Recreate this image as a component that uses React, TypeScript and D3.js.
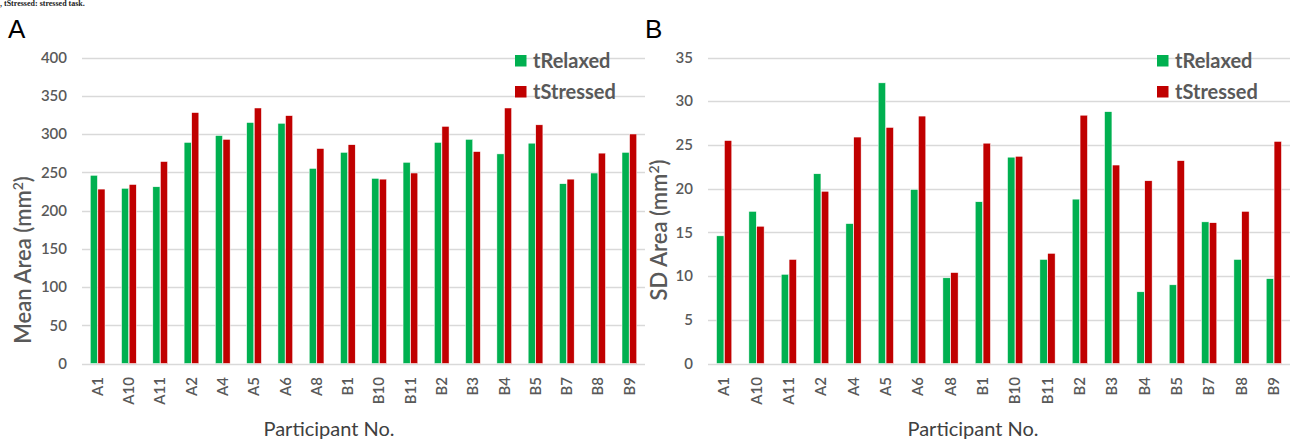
import React from "react";
import * as d3 from "d3";

const categories = ["A1","A10","A11","A2","A4","A5","A6","A8","B1","B10","B11","B2","B3","B4","B5","B7","B8","B9"];
const seriesNames = ["tRelaxed", "tStressed"];
const meanRelaxed = [246,229,231,289,298,315,314,255,276,242,263,289,293,274,288,235,249,276];
const meanStressed = [228,234,264,328,293,334,324,281,286,241,249,310,277,334,312,241,275,300];
const sdRelaxed = [14.6,17.4,10.2,21.7,16.0,32.1,19.9,9.8,18.5,23.6,11.9,18.8,28.8,8.2,9.0,16.2,11.9,9.7];
const sdStressed = [25.5,15.7,11.9,19.7,25.9,27.0,28.3,10.4,25.2,23.7,12.6,28.4,22.7,20.9,23.2,16.1,17.4,25.4];
const meanTicks = [0,50,100,150,200,250,300,350,400];
const sdTicks = [0,5,10,15,20,25,30,35];

const COLORS = ["#00b050", "#c00000"];
const FONT = "Lato, 'Open Sans', sans-serif";

type PanelProps = {
  letter: string;
  letterX: number;
  left: number;
  right: number;
  yMax: number;
  ticks: number[];
  relaxed: number[];
  stressed: number[];
  yTitle: string;
  yTitleX: number;
  yTitleY: number;
  legendX: number;
  xTitleX: number;
};

function Panel(p: PanelProps) {
  const top = 57.5;
  const bottom = 363.5;
  const x = d3.scaleBand<string>().domain(categories).range([p.left, p.right]).paddingInner(0.5).paddingOuter(0.25);
  const sub = d3.scaleBand<string>().domain(seriesNames).range([0, x.bandwidth()]).padding(0.06);
  const y = d3.scaleLinear().domain([0, p.yMax]).range([bottom, top]);
  const series = [p.relaxed, p.stressed];
  return (
    <g>
      <text x={p.letterX} y={38} fontFamily="'Liberation Sans', Arial, sans-serif" fontSize={26} fill="#000">{p.letter}</text>
      {p.ticks.map((t) => (
        <g key={t}>
          <line x1={p.left} x2={p.right} y1={Math.round(y(t)) + 0.5} y2={Math.round(y(t)) + 0.5} stroke="#d9d9d9" strokeWidth={1.3} />
          <text x={p.left - 15} y={y(t)} dy="0.35em" textAnchor="end" fontFamily={FONT} fontSize={15} fontWeight={600} fill="#595959">{t}</text>
        </g>
      ))}
      {categories.map((c, i) => (
        <g key={c}>
          {series.map((s, k) => (
            <rect
              key={k}
              x={(x(c) as number) + (sub(seriesNames[k]) as number)}
              y={y(s[i])}
              width={sub.bandwidth()}
              height={y(0) - y(s[i])}
              fill={COLORS[k]}
              stroke="#ffffff"
              strokeWidth={0.5}
            />
          ))}
          <text
            transform={`translate(${(x(c) as number) + x.bandwidth() / 2},${377}) rotate(-90)`}
            dy="0.35em"
            textAnchor="end"
            fontFamily={FONT}
            fontSize={15}
            fontWeight={600}
            fill="#595959"
          >{c}</text>
        </g>
      ))}
      <text
        transform={`translate(${p.yTitleX},${p.yTitleY}) rotate(-90)`}
        textAnchor="middle"
        dy="0.35em"
        fontFamily={FONT}
        fontSize={22}
        fontWeight={600}
        fill="#595959"
      >{p.yTitle.split("²")[0]}<tspan fontSize={14} dy="-8">2</tspan><tspan dy="8">)</tspan></text>
      <text x={p.xTitleX} y={436} textAnchor="middle" fontFamily={FONT} fontSize={20} fill="#404040">Participant No.</text>
      {seriesNames.map((n, k) => (
        <g key={n}>
          <rect x={p.legendX} y={55 + k * 31} width={11.5} height={11.5} fill={COLORS[k]} />
          <text x={p.legendX + 18} y={67.5 + k * 31} fontFamily={FONT} fontSize={20} fontWeight={700} fill="#595959">{n}</text>
        </g>
      ))}
    </g>
  );
}

export default function App() {
  return (
    <svg width={1290} height={439} style={{ position: "absolute", left: 0, top: 0, background: "#fff" }}>
      <rect width={1290} height={439} fill="#fff" />
      <text x={0} y={6} fontFamily="'Liberation Serif', serif" fontSize={8} fontWeight={700} fill="#222">, tStressed: stressed task.</text>
      <Panel
        letter="A" letterX={8} left={82} right={645} yMax={400} ticks={meanTicks}
        relaxed={meanRelaxed} stressed={meanStressed}
        yTitle="Mean Area (mm²)" yTitleX={23} yTitleY={260} legendX={515} xTitleX={329}
      />
      <Panel
        letter="B" letterX={645} left={708} right={1290} yMax={35} ticks={sdTicks}
        relaxed={sdRelaxed} stressed={sdStressed}
        yTitle="SD Area (mm²)" yTitleX={659} yTitleY={230} legendX={1157} xTitleX={973}
      />
    </svg>
  );
}
